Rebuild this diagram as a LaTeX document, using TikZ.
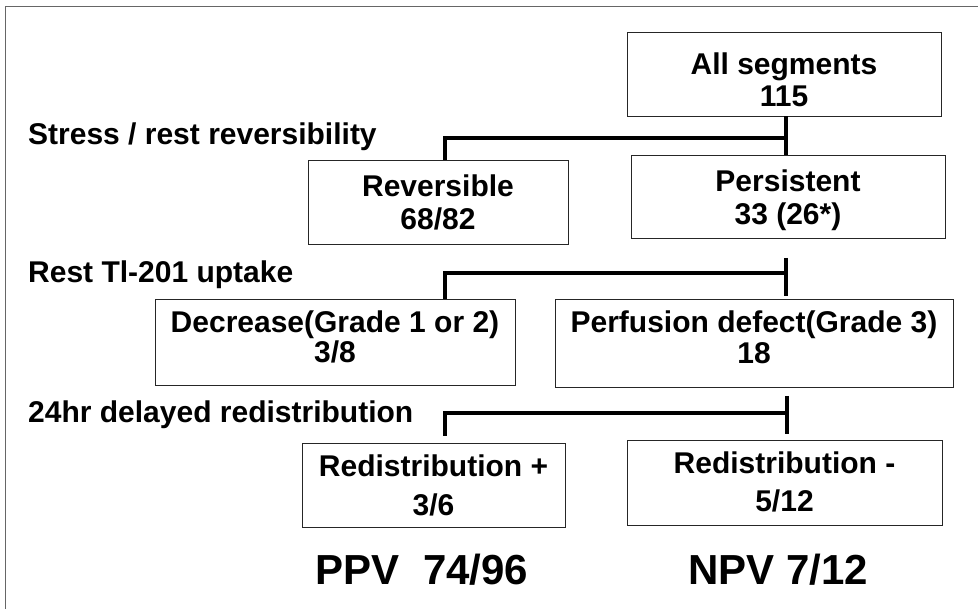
\documentclass[tikz,border=0pt]{standalone}
\usepackage{fontspec}
\setmainfont{Liberation Sans}
\begin{document}
\begin{tikzpicture}[x=1pt,y=-1pt,
  boxnode/.style={draw=black!85, line width=0.9pt, rectangle, inner sep=0pt},
  txt/.style={font=\fontsize{30}{32}\selectfont\bfseries, anchor=base, inner sep=0pt},
  lbl/.style={font=\fontsize{30}{32}\selectfont\bfseries, anchor=base west, inner sep=0pt},
  big/.style={font=\fontsize{42}{44}\selectfont\bfseries, anchor=base, inner sep=0pt},
  conn/.style={line width=3.5pt, black},
  frame/.style={draw=black!60, line width=1pt}]
\useasboundingbox (0,0) rectangle (978,609);
\fill[white] (0,0) rectangle (978,609);
% frame (left and top edges as in the scan)
\coordinate (fbl) at (5,609);
\coordinate (ftl) at (5,7);
\coordinate (ftr) at (978,7);
\draw[frame] (fbl) -- (ftl) -- (ftr);

% boxes
\node[boxnode, minimum width=314, minimum height=84] (all)  at (784,74) {};
\node[boxnode, minimum width=260, minimum height=84] (rev)  at (438,202) {};
\node[boxnode, minimum width=314, minimum height=83] (pers) at (788,196.5) {};
\node[boxnode, minimum width=360, minimum height=86] (dec)  at (335,342) {};
\node[boxnode, minimum width=398, minimum height=88] (perf) at (754,343) {};
\node[boxnode, minimum width=263, minimum height=84] (rp)   at (433.5,485) {};
\node[boxnode, minimum width=315, minimum height=85] (rm)   at (784.5,482.5) {};

% box texts
\node[txt] (all1)  at (784,75)  {All segments};
\node[txt] (all2)  at (784,107) {115};
\node[txt] (rev1)  at (438,197) {Reversible};
\node[txt] (rev2)  at (438,230) {68/82};
\node[txt] (pers1) at (788,192) {Persistent};
\node[txt] (pers2) at (788,225) {33 (26*)};
\node[txt] (dec1)  at (335,333) {Decrease(Grade 1 or 2)};
\node[txt] (dec2)  at (335,363) {3/8};
\node[txt] (perf1) at (754,333) {Perfusion defect(Grade 3)};
\node[txt] (perf2) at (754,364) {18};
\node[txt] (rp1)   at (433.5,477) {Redistribution +};
\node[txt] (rp2)   at (433.5,515) {3/6};
\node[txt] (rm1)   at (784.5,474) {Redistribution -};
\node[txt] (rm2)   at (784.5,512) {5/12};

% level labels
\node[lbl] (l1) at (28,145) {Stress / rest reversibility};
\node[lbl] (l2) at (28,283) {Rest Tl-201 uptake};
\node[lbl] (l3) at (28,423) {24hr delayed redistribution};

% results
\node[big] (ppv) at (422,584) {PPV\ \ 74/96};
\node[big] (npv) at (778,584) {NPV 7/12};

% connectors level 1
\coordinate (h1r) at (786,138);
\coordinate (h1l) at (445,138);
\draw[conn] (all.south -| h1r) -- (pers.north -| h1r);
\draw[conn] (h1r) -- (h1l) -- (rev.north -| h1l);

% connectors level 2
\coordinate (t2a) at (786,258);
\coordinate (t2b) at (786,296);
\coordinate (h2r) at (786,273);
\coordinate (h2l) at (445,273);
\draw[conn] (t2a) -- (t2b);
\draw[conn] (h2r) -- (h2l) -- (dec.north -| h2l);

% connectors level 3
\coordinate (t3a) at (787,396);
\coordinate (t3b) at (787,434);
\coordinate (h3r) at (787,413);
\coordinate (h3l) at (445,413);
\coordinate (e3)  at (445,436);
\draw[conn] (t3a) -- (t3b);
\draw[conn] (h3r) -- (h3l) -- (e3);
\end{tikzpicture}
\end{document}
